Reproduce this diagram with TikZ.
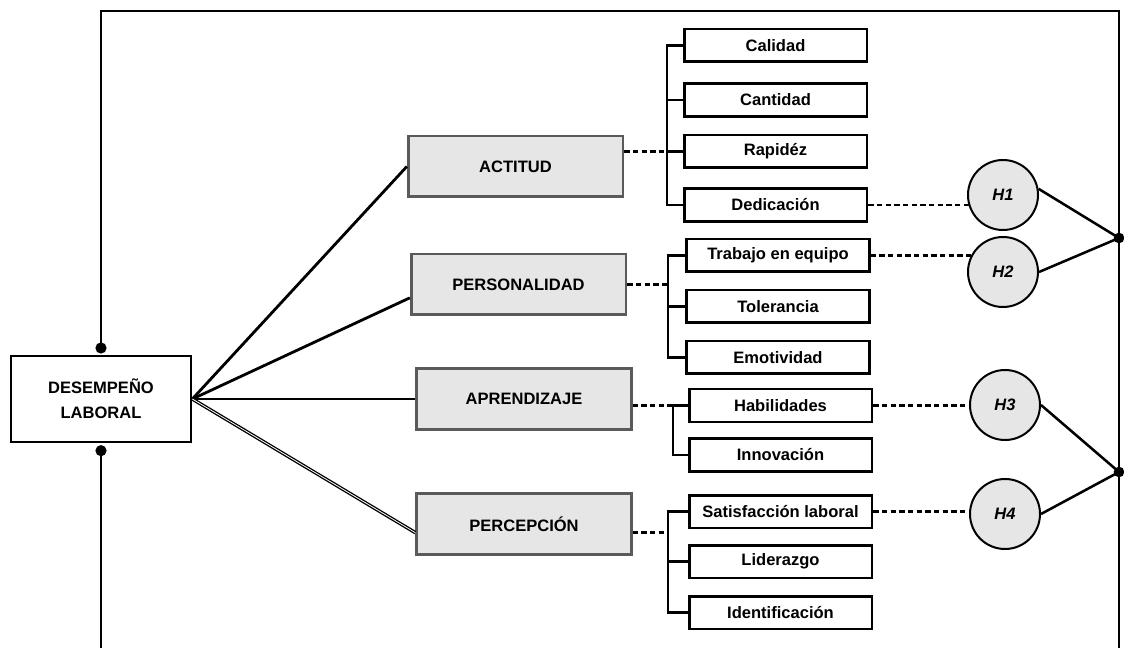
\documentclass[tikz,border=0pt]{standalone}
\usepackage{fontspec}
\setmainfont{Liberation Sans}
\usetikzlibrary{backgrounds}
\definecolor{boxfill}{RGB}{230,230,230}
\definecolor{boxedge}{RGB}{90,90,90}

\begin{document}
\begin{tikzpicture}[x=0.75pt, y=-0.75pt,
  mainbox/.style={draw, line width=2pt, minimum width=135pt, minimum height=64.5pt, align=center, font=\bfseries\fontsize{12.4}{19}\selectfont},
  dimbox/.style={draw=boxedge, fill=boxfill, line width=2pt, minimum width=161pt, minimum height=45.5pt, font=\bfseries\fontsize{12.4}{14}\selectfont},
  itembox/.style={draw, line width=2pt, minimum width=137pt, minimum height=24.5pt, font=\bfseries\fontsize{12.4}{14}\selectfont},
  hypo/.style={circle, draw, fill=boxfill, line width=1.5pt, minimum size=52.5pt, inner sep=0pt, font=\bfseries\itshape\fontsize{12.4}{14}\selectfont},
  link/.style={line width=2.1pt},
  bracket/.style={line width=1.9pt},
  dashlink/.style={line width=1.9pt, dash pattern=on 4pt off 2.5pt}
]
  \useasboundingbox (0,0) rectangle (1124,648);

  % main variable and dimensions
  \node[mainbox] (des) at (101,399) {DESEMPEÑO\\LABORAL};
  \node[dimbox] (actitud) at (515.5,166.5) {ACTITUD};
  \node[dimbox] (personalidad) at (518.5,284.5) {PERSONALIDAD};
  \node[dimbox] (aprendizaje) at (524,399) {APRENDIZAJE};
  \node[dimbox] (percepcion) at (524,524) {PERCEPCIÓN};

  % indicators
  \foreach \name/\x/\y/\txt in {calidad/775.5/45.5/Calidad, cantidad/775.5/100/Cantidad,
      rapidez/775.5/151.5/Rapidéz, dedicacion/775.5/205/Dedicación,
      trabajo/778/255.5/Trabajo en equipo, tolerancia/778/306.5/Tolerancia,
      emotividad/778/357.5/Emotividad, habilidades/780.5/405.5/Habilidades,
      innovacion/780.5/455/Innovación, satisfaccion/780.5/511.5/Satisfacción laboral,
      liderazgo/780.5/561.5/Liderazgo, identificacion/780.5/612.5/Identificación} {
    \node[itembox] (\name) at (\x,\y) {\txt};
  }

  % hypotheses
  \node[hypo] (H1) at (1003,195) {H1};
  \node[hypo] (H2) at (1003,272) {H2};
  \node[hypo] (H3) at (1005,405) {H3};
  \node[hypo] (H4) at (1005,514) {H4};

  \coordinate (spA) at (667,0);
  \coordinate (spB) at (668,0);
  \coordinate (spC) at (673,0);
  \coordinate (spD) at (668,0);
  \coordinate (tl) at (101,11);
  \coordinate (tr) at (1119,11);
  \coordinate (bl) at (101,648);
  \coordinate (br) at (1119,648);
  \coordinate (jA) at (1119,238);
  \coordinate (jB) at (1119,472);
  \coordinate (topdot) at ([yshift=5pt]des.north);
  \coordinate (botdot) at ([yshift=-5.5pt]des.south);
  \coordinate (peIn) at ([yshift=-6.5pt]percepcion.west);
  \coordinate (peOut) at ([yshift=-6.5pt]percepcion.east);
  \coordinate (peIn2) at ([yshift=-10pt]personalidad.west);

  % outer frame
  \draw[link] (topdot) -- (tl) -- (tr) -- (br);
  \draw[link] (botdot) -- (bl);
  \fill (topdot) circle (4.2pt);
  \fill (botdot) circle (4.2pt);

  % main to dimensions
  \draw[link] (des.east) -- (actitud.west);
  \draw[link] (des.east) -- (peIn2);
  \draw[link] (des.east) -- (aprendizaje.west);
  \draw[line width=1pt, double, double distance=0.6pt] (des.east) -- (peIn);

  % brackets
  \draw[bracket] (calidad.west) -| (spA |- dedicacion.west) -- (dedicacion.west);
  \draw[bracket] (spA |- cantidad.west) -- (cantidad.west);
  \draw[bracket] (spA |- rapidez.west) -- (rapidez.west);
  \draw[dashlink] (actitud.east |- rapidez.west) -- (spA |- rapidez.west);

  \draw[bracket] (trabajo.west) -| (spB |- emotividad.west) -- (emotividad.west);
  \draw[bracket] (spB |- tolerancia.west) -- (tolerancia.west);
  \draw[dashlink] (personalidad.east) -- (spB |- personalidad.east);

  \draw[bracket] ([xshift=-3pt]spC |- habilidades.west) -- (habilidades.west);
  \draw[bracket] (spC |- habilidades.west) -- (spC |- innovacion.west) -- (innovacion.west);
  \draw[dashlink] (aprendizaje.east |- habilidades.west) -- (spC |- habilidades.west);

  \draw[bracket] (satisfaccion.west) -| (spD |- identificacion.west) -- (identificacion.west);
  \draw[bracket] (spD |- liderazgo.west) -- (liderazgo.west);
  \draw[dashlink] (peOut) -- (spD |- peOut);

  % indicators to hypotheses
  \begin{scope}[on background layer]
    \draw[dashlink] (dedicacion.east) -- (dedicacion.east -| H1);
    \draw[dashlink] (trabajo.east) -- (trabajo.east -| H2);
    \draw[dashlink] (habilidades.east) -- (habilidades.east -| H3);
    \draw[dashlink] (satisfaccion.east) -- (satisfaccion.east -| H4);
  \end{scope}

  \draw[bracket] (H1.10) -- (jA);
  \draw[bracket] (H2.east) -- (jA);
  \draw[bracket] (H3.east) -- (jB);
  \draw[bracket] (H4.east) -- (jB);
  \fill (jA) circle (4pt);
  \fill (jB) circle (4pt);
\end{tikzpicture}
\end{document}
